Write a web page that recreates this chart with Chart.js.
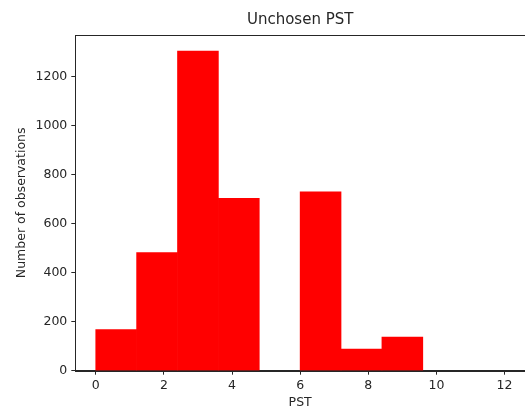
<!DOCTYPE html>
<html>
<head>
<meta charset="utf-8">
<script src="https://cdn.jsdelivr.net/npm/chart.js@4"></script>
<style>
  html, body { margin: 0; padding: 0; background: #fff; }
  #wrap { width: 525px; height: 420px; }
</style>
</head>
<body>
<div id="wrap"><canvas id="hist" width="525" height="420"></canvas></div>
<script>
// histogram data
const binEdges = [0, 1.2, 2.4, 3.6, 4.8, 6.0, 7.2, 8.4, 9.6, 10.8, 12.0];
const counts = [168, 482, 1305, 704, 0, 730, 88, 137, 0, 0];
const xTicks = [0, 2, 4, 6, 8, 10, 12];
const yTicks = [0, 200, 400, 600, 800, 1000, 1200];

const FONT = 'DejaVu Sans';
const INK = '#262626';

const points = counts.map((c, i) => ({ x: (binEdges[i] + binEdges[i + 1]) / 2, y: c }));
const span = binEdges[binEdges.length - 1] - binEdges[0];
const maxCount = Math.max(...counts);

// top + right spines (matplotlib draws the full box)
const boxPlugin = {
  id: 'box',
  afterDraw(chart) {
    const a = chart.chartArea, ctx = chart.ctx;
    ctx.save();
    ctx.strokeStyle = INK;
    ctx.lineWidth = 1;
    ctx.strokeRect(Math.round(a.left) + 0.5, Math.round(a.top) + 0.5,
      Math.round(a.right - a.left), Math.round(a.bottom - a.top));
    ctx.restore();
  }
};

new Chart(document.getElementById('hist'), {
  type: 'bar',
  data: {
    datasets: [{
      data: points,
      // empty bins leave no sliver on the axis
      backgroundColor: (c) => (c.raw && c.raw.y > 0 ? '#ff0000' : 'rgba(0,0,0,0)'),
      borderWidth: 0,
      barPercentage: 1,
      categoryPercentage: 1,
      grouped: false
    }]
  },
  plugins: [boxPlugin],
  options: {
    responsive: false,
    animation: false,
    layout: { padding: { left: 0, right: 0, top: 0, bottom: 0 } },
    plugins: {
      legend: { display: false },
      tooltip: { enabled: false },
      title: {
        display: true,
        fullSize: false,
        text: 'Unchosen PST',
        color: INK,
        font: { family: FONT, size: 15, weight: 'normal' },
        padding: { top: 11, bottom: 6 }
      }
    },
    scales: {
      x: {
        type: 'linear',
        offset: false,
        min: binEdges[0] - span * 0.05,
        max: binEdges[binEdges.length - 1] + span * 0.05,
        afterBuildTicks: (s) => { s.ticks = xTicks.map(v => ({ value: v })); },
        afterFit: (s) => { s.height = 49.3; },
        grid: { offset: false, drawOnChartArea: false, drawTicks: true, tickLength: 4, color: INK },
        border: { display: true, color: INK, width: 1 },
        ticks: { color: INK, padding: 4, maxRotation: 0, font: { family: FONT, size: 12.5 },
                 callback: (v) => String(v) },
        title: {
          display: true, text: 'PST', color: INK,
          font: { family: FONT, size: 12.5 },
          padding: { top: 0, bottom: 10 }
        }
      },
      y: {
        min: 0,
        max: maxCount * 1.05,
        afterBuildTicks: (s) => { s.ticks = yTicks.map(v => ({ value: v })); },
        afterFit: (s) => { s.width = 75.3; },
        grid: { drawOnChartArea: false, drawTicks: true, tickLength: 4, color: INK },
        border: { display: true, color: INK, width: 1 },
        ticks: { color: INK, padding: 4, font: { family: FONT, size: 12.5 },
                 callback: (v) => String(v) },
        title: {
          display: true, text: 'Number of observations', color: INK,
          font: { family: FONT, size: 12.5 },
          padding: { top: 14, bottom: 0 }
        }
      }
    }
  }
});
</script>
</body>
</html>
